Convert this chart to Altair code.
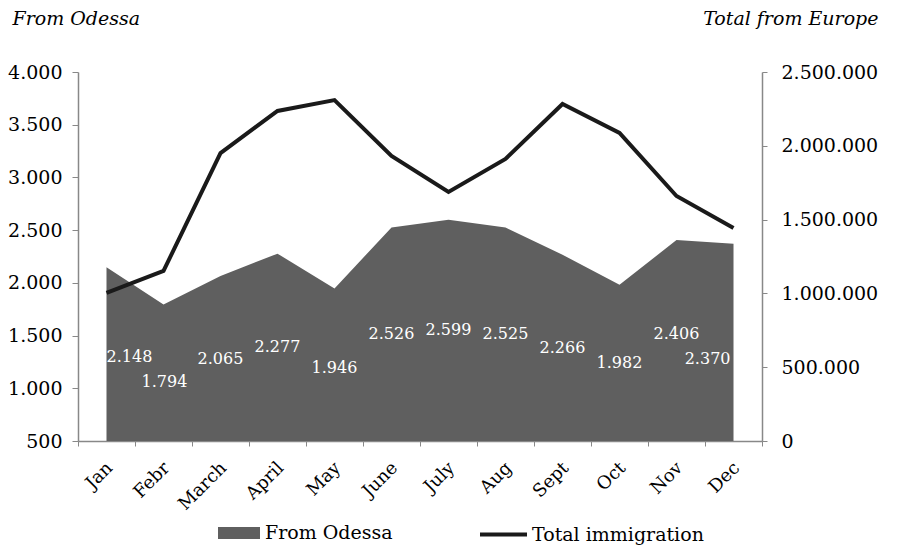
import altair as alt
import pandas as pd

months = ["Jan", "Febr", "March", "April", "May", "June", "July", "Aug", "Sept", "Oct", "Nov", "Dec"]
odessa = [2148, 1794, 2065, 2277, 1946, 2526, 2599, 2525, 2266, 1982, 2406, 2370]
total = [1003000, 1152000, 1951000, 2236000, 2310000, 1931000, 1687000, 1911000, 2283000, 2087000, 1660000, 1443000]

df = pd.DataFrame({"month": months, "odessa": odessa, "total": total,
                   "s_area": "From Odessa", "s_line": "Total immigration"})

FONT = "DejaVu Serif"
dot_fmt = "replace(format(datum.value, ','), regexp(',', 'g'), '.')"

x_enc = alt.X(
    "month:N", sort=months, bandPosition=0.5,
    scale=alt.Scale(type="band", paddingInner=0, paddingOuter=0),
    axis=alt.Axis(title=None, labelAngle=-45, labelAlign="right", labelBaseline="middle",
                  tickBand="extent", tickSize=5, labelPadding=19, labelOffset=3, labelFontSize=18,
                  domainColor="#888888", tickColor="#888888", labelColor="black"),
)

yleft_scale = alt.Scale(domain=[500, 4000], nice=False, zero=False)
yleft_axis = alt.Axis(orient="left", values=list(range(500, 4001, 500)), labelExpr=dot_fmt,
                      title="From Odessa", titleAngle=0, titleAlign="left", titleBaseline="middle",
                      titleX=-66, titleY=-54, titleFontStyle="italic", titleFontWeight="normal",
                      titleFontSize=19, titleFont=FONT, tickSize=6, labelPadding=10,
                      labelFontSize=19, domainColor="#888888", tickColor="#888888",
                      labelColor="black")

area = alt.Chart(df).mark_area(interpolate="linear").encode(
    x=x_enc,
    y=alt.Y("odessa:Q", scale=yleft_scale, axis=yleft_axis),
    y2=alt.datum(500),
    fill=alt.Fill("s_area:N", scale=alt.Scale(domain=["From Odessa"], range=["#5f5f5f"]),
                  legend=alt.Legend(orient="none", legendX=140, legendY=440, title=None,
                                    symbolType="M-1,-0.29H1V0.29H-1Z", symbolSize=1764,
                                    symbolStrokeWidth=0, labelFontSize=19, labelFont=FONT,
                                    labelOffset=5, padding=0, labelColor="black", labelLimit=0)),
)

text_base = alt.Chart(df).transform_calculate(
    mid="(datum.odessa + 500) / 2",
    lbl="replace(format(datum.odessa, ','), regexp(',', 'g'), '.')",
)

def text_layer(filt, align, dx, dy):
    return text_base.transform_filter(filt).mark_text(
        color="white", font=FONT, fontSize=16, align=align, baseline="middle", dx=dx, dy=dy
    ).encode(
        x=x_enc,
        y=alt.Y("mid:Q", scale=yleft_scale, axis=yleft_axis),
        text="lbl:N",
    )

t_layers = [
    text_layer("datum.month == 'Jan'", "left", 0, 3),
    text_layer("datum.month == 'Febr'", "center", 1, 9),
    text_layer("indexof(['March','April','June','July','Aug','Sept','Oct'], datum.month) >= 0", "center", 0, 0),
    text_layer("datum.month == 'May'", "center", 0, 3),
    text_layer("datum.month == 'Nov'", "center", 0, -7),
    text_layer("datum.month == 'Dec'", "right", -3, 17),
]

left = alt.layer(area, *t_layers)

line = alt.Chart(df).mark_line(strokeWidth=4, strokeJoin="miter", strokeCap="butt").encode(
    x=x_enc,
    y=alt.Y("total:Q", scale=alt.Scale(domain=[0, 2500000], nice=False),
            axis=alt.Axis(orient="right", values=list(range(0, 2500001, 500000)), labelExpr=dot_fmt,
                          title="Total from Europe", titleAngle=0, titleAlign="right",
                          titleBaseline="middle", titleX=116, titleY=-54, titleFontStyle="italic",
                          titleFontWeight="normal", titleFontSize=19, titleFont=FONT,
                          tickSize=5, labelPadding=14, labelFontSize=19, domainColor="#888888",
                          tickColor="#888888", labelColor="black")),
    stroke=alt.Stroke("s_line:N", scale=alt.Scale(domain=["Total immigration"], range=["#1a1a1a"]),
                      legend=alt.Legend(orient="none", legendX=400, legendY=437, title=None,
                                        symbolType="stroke", symbolSize=2209, symbolStrokeWidth=4,
                                        labelFontSize=19, labelFont=FONT, labelOffset=3,
                                        padding=0, labelColor="black", labelLimit=0)),
)

chart = alt.layer(left, line).resolve_scale(y="independent").properties(
    width=684, height=369,
    padding={"left": 78, "top": 72, "right": 135, "bottom": 106},
    autosize=alt.AutoSizeParams(type="none"),
).configure(font=FONT).configure_view(stroke=None).configure_axis(
    grid=False, labelFont=FONT, titleFont=FONT, domainWidth=1.5
)

chart.save("out.html", embed_options={"renderer": "svg", "actions": False})
